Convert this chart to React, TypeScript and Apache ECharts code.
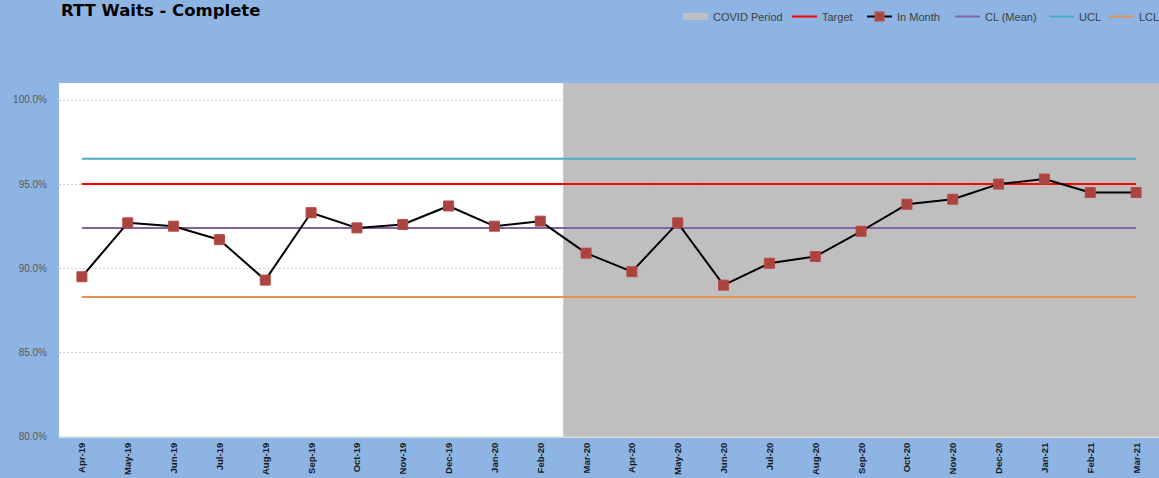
import React, { useEffect, useRef } from 'react';
import * as echarts from 'echarts';

const months = [
  'Apr-19', 'May-19', 'Jun-19', 'Jul-19', 'Aug-19', 'Sep-19', 'Oct-19', 'Nov-19',
  'Dec-19', 'Jan-20', 'Feb-20', 'Mar-20', 'Apr-20', 'May-20', 'Jun-20', 'Jul-20',
  'Aug-20', 'Sep-20', 'Oct-20', 'Nov-20', 'Dec-20', 'Jan-21', 'Feb-21', 'Mar-21',
];
const inMonth = [
  89.5, 92.7, 92.5, 91.7, 89.3, 93.3, 92.4, 92.6, 93.7, 92.5, 92.8, 90.9,
  89.8, 92.7, 89.0, 90.3, 90.7, 92.2, 93.8, 94.1, 95.0, 95.3, 94.5, 94.5,
];
const target = 95;
const clMean = 92.4;
const ucl = 96.5;
const lcl = 88.3;
const covidStart = 'Mar-20';
const yMin = 80;
const yMax = 101;
const yStep = 5;

const FONT = 'Liberation Sans';
const LINE_ICON = 'path://M0,0H25V2H0Z';

export default function App() {
  const ref = useRef<HTMLDivElement>(null);
  useEffect(() => {
    document.body.style.margin = '0';
    const chart = echarts.init(ref.current!, null, { renderer: 'svg' });
    const startIdx = months.indexOf(covidStart);
    const covidData = months
      .map((_, i) => [i, 1])
      .filter((d) => d[0] >= startIdx);
    const constLine = (name: string, value: number, color: string) => ({
      name,
      type: 'line',
      data: months.map(() => value),
      symbol: 'none',
      showSymbol: false,
      silent: true,
      z: 3,
      lineStyle: { color, width: 2 },
      itemStyle: { color },
    });
    const legendBase = {
      top: 11,
      padding: 0,
      itemWidth: 25,
      itemHeight: 10,
      selectedMode: false,
      textStyle: { fontSize: 11, color: '#404040', fontFamily: FONT },
    };
    chart.setOption({
      animation: false,
      backgroundColor: '#8DB4E2',
      textStyle: { fontFamily: FONT },
      title: {
        text: 'RTT Waits - Complete',
        left: 61,
        top: 2,
        padding: 0,
        textStyle: { fontSize: 16.5, fontWeight: 'bold', color: '#000', fontFamily: 'DejaVu Sans' },
      },
      legend: [
        {
          ...legendBase,
          left: 683,
          itemHeight: 7,
          data: [{ name: 'COVID Period', icon: 'rect', itemStyle: { color: '#BFBFBF' } }],
        },
        { ...legendBase, left: 792, data: [{ name: 'Target', icon: LINE_ICON }] },
        { ...legendBase, left: 866, data: ['In Month'] },
        { ...legendBase, left: 955, data: [{ name: 'CL (Mean)', icon: LINE_ICON }] },
        { ...legendBase, left: 1049, data: [{ name: 'UCL', icon: LINE_ICON }] },
        { ...legendBase, left: 1109, data: [{ name: 'LCL', icon: LINE_ICON }] },
      ],
      grid: {
        left: 59,
        top: 83,
        width: 1102,
        height: 354,
        show: true,
        backgroundColor: '#ffffff',
        borderWidth: 0,
      },
      xAxis: {
        type: 'category',
        data: months,
        boundaryGap: true,
        axisLine: { show: true, lineStyle: { color: '#D9D9D9', width: 1 } },
        axisTick: { show: false },
        axisLabel: {
          rotate: 90,
          interval: 0,
          fontSize: 9.5,
          fontWeight: 'bold',
          color: '#1A1A1A',
          margin: 6,
        },
        splitLine: { show: false },
      },
      yAxis: [
        {
          type: 'value',
          min: yMin,
          max: yMax,
          interval: yStep,
          axisLine: { show: false },
          axisTick: { show: false },
          axisLabel: {
            fontSize: 10,
            color: '#595959',
            margin: 12,
            showMaxLabel: false,
            formatter: (v: number) => (v > 100 ? '' : v.toFixed(1) + '%'),
          },
          splitLine: {
            show: true,
            showMaxLine: false,
            showMinLine: false,
            lineStyle: { color: '#D0D0D0', type: [2, 2], width: 1 },
          },
        },
        { type: 'value', min: 0, max: 1, show: false },
      ],
      series: [
        {
          name: 'COVID Period',
          type: 'custom',
          yAxisIndex: 1,
          data: covidData,
          silent: true,
          z: 1,
          itemStyle: { color: '#BFBFBF' },
          renderItem: (_params: any, api: any) => {
            const top = api.coord([api.value(0), api.value(1)]);
            const bottom = api.coord([api.value(0), 0]);
            const bw = api.size([1, 0])[0];
            return {
              type: 'rect',
              shape: {
                x: top[0] - bw / 2,
                y: top[1],
                width: bw + 1,
                height: bottom[1] - top[1],
              },
              style: { fill: '#BFBFBF', stroke: null },
            };
          },
        },
        constLine('Target', target, '#FF0000'),
        {
          name: 'In Month',
          type: 'line',
          data: inMonth,
          symbol: 'rect',
          symbolSize: 10,
          showSymbol: true,
          z: 5,
          lineStyle: { color: '#000000', width: 2 },
          itemStyle: { color: '#A9443F', borderColor: '#B94A46', borderWidth: 1 },
        },
        constLine('CL (Mean)', clMean, '#8064A2'),
        constLine('UCL', ucl, '#4BACC6'),
        constLine('LCL', lcl, '#E8914F'),
      ],
    });
    return () => chart.dispose();
  }, []);
  return (
    <div
      ref={ref}
      style={{ position: 'absolute', left: 0, top: 0, width: 1159, height: 478 }}
    />
  );
}
